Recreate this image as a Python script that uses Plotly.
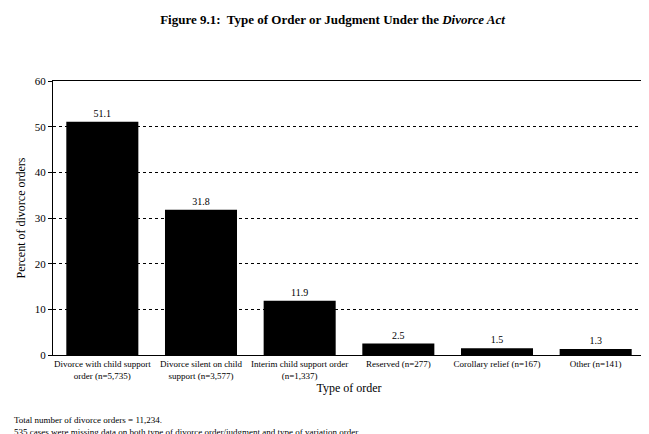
import plotly.graph_objects as go

categories = ["Divorce with child support<br>order (n=5,735)", "Divorce silent on child<br>support (n=3,577)",
              "Interim child support order<br>(n=1,337)", "Reserved (n=277)", "Corollary relief (n=167)", "Other (n=141)"]
values = [51.1, 31.8, 11.9, 2.5, 1.5, 1.3]
labels = ["51.1", "31.8", "11.9", "2.5", "1.5", "1.3"]

F = "Liberation Serif, Times New Roman, serif"
fig = go.Figure(go.Bar(x=categories, y=values, marker_color="black", marker_line_width=0,
                       text=labels, textposition="outside", textfont=dict(size=10, color="black", family=F),
                       cliponaxis=False))
fig.update_layout(
    width=649, height=434, plot_bgcolor="white", paper_bgcolor="white",
    margin=dict(l=45, r=12, t=73, b=87), bargap=0.27, showlegend=False,
    font=dict(family=F, color="black", size=10),
    title=dict(text="<b>Figure 9.1:  Type of Order or Judgment Under the <i>Divorce Act</i></b>",
               x=0.5, xanchor="center", y=0.985, yanchor="top", font=dict(size=13, family=F)),
)
fig.update_xaxes(showline=True, linecolor="black", linewidth=1, mirror=True, ticks="",
                 tickfont=dict(size=9, family=F),
                 title=dict(text="Type of order", font=dict(size=12, family=F), standoff=4))
fig.update_yaxes(range=[0, 60], dtick=10, showline=True, linecolor="black", linewidth=1, mirror=True,
                 ticks="outside", ticklen=4, tickcolor="black", showgrid=True, gridcolor="black",
                 griddash="dot", gridwidth=1, zeroline=False, tickfont=dict(size=11, family=F),
                 title=dict(text="Percent of divorce orders", font=dict(size=12, family=F), standoff=6))
fig.add_annotation(text="Total number of divorce orders = 11,234.<br>535 cases were missing data on both type of divorce order/judgment and type of variation order.",
                   xref="paper", yref="paper", x=-41/592, y=-58/274, xanchor="left", yanchor="top",
                   showarrow=False, align="left", font=dict(size=9, family=F))
fig.write_html("out.html")
